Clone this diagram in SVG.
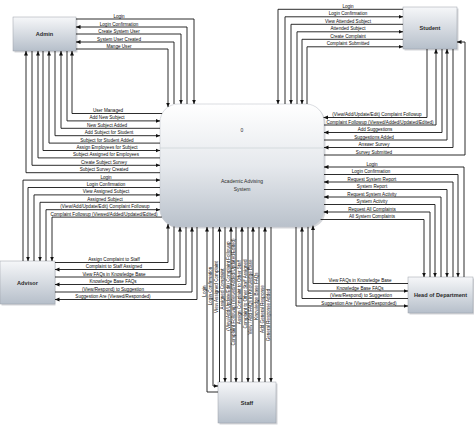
<svg xmlns="http://www.w3.org/2000/svg" width="474" height="426" viewBox="0 0 474 426">
<defs>
<linearGradient id="g" x1="0" y1="0" x2="0" y2="1"><stop offset="0" stop-color="#f6f7f9"/><stop offset="1" stop-color="#b6bfca"/></linearGradient>
<linearGradient id="gc" x1="0" y1="0" x2="0" y2="1"><stop offset="0" stop-color="#ffffff"/><stop offset="0.5" stop-color="#e6e9ed"/><stop offset="1" stop-color="#b9c1cb"/></linearGradient>
<marker id="a" viewBox="0 0 6 6" refX="6" refY="3" markerWidth="4.5" markerHeight="4.5" markerUnits="userSpaceOnUse" orient="auto"><path d="M0,0.3 L6,3 L0,5.7 z" fill="#111"/></marker>
<style>
.n{fill:url(#g);stroke:#9aa0a8;stroke-width:0.5}
.s{fill:#d4d6da}
.nt{font-family:"Liberation Sans",Arial,sans-serif;font-size:5.6px;font-weight:bold;fill:#2a2a2a;text-anchor:middle}
.ct{font-family:"Liberation Sans",Arial,sans-serif;font-size:5px;fill:#2a2a2a;text-anchor:middle}
.c path{fill:none;stroke:#151515;stroke-width:0.9;marker-end:url(#a)}
.t{font-family:"Liberation Sans",Arial,sans-serif;font-size:4.6px;fill:#0a0a0a;text-anchor:middle}
</style>
</defs>
<rect width="474" height="426" fill="#ffffff"/>

<g id="admin"><rect class="s" x="14.5" y="18.5" width="63" height="34"/><rect class="n" x="13" y="17" width="63" height="34"/><text class="nt" x="44.5" y="36">Admin</text></g>
<g id="student"><rect class="s" x="404.5" y="8.5" width="54" height="42"/><rect class="n" x="403" y="7" width="54" height="42"/><text class="nt" x="430" y="30">Student</text></g>
<g id="system"><rect x="161.5" y="105.5" width="164" height="123" rx="18" fill="#d4d6da"/><rect x="160" y="104" width="164" height="123" rx="18" fill="url(#gc)" stroke="#c2c6cc" stroke-width="0.6"/><line x1="160" y1="148" x2="324" y2="148" stroke="#c8ccd2" stroke-width="0.6"/><text class="ct" x="242" y="132">0</text><text class="ct" x="242" y="183">Academic Advising</text><text class="ct" x="242" y="191">System</text></g>
<g id="advisor"><rect class="s" x="1.5" y="262.5" width="54" height="43"/><rect class="n" x="0" y="261" width="55" height="43"/><text class="nt" x="27.5" y="284.5">Advisor</text></g>
<g id="hod"><rect class="s" x="409.5" y="278.5" width="65" height="36"/><rect class="n" x="408" y="277" width="65" height="36"/><text class="nt" x="440.5" y="297">Head of Department</text></g>
<g id="staff"><rect class="s" x="219.5" y="383.5" width="58" height="41"/><rect class="n" x="218" y="382" width="58" height="41"/><text class="nt" x="247" y="404.5">Staff</text></g>

<g id="connectors" class="c">
<path d="M76,19 H194 V104"/>
<path d="M187,104 V27 H76"/>
<path d="M76,34 H181 V104"/>
<path d="M174,104 V42 H76"/>
<path d="M76,49 H168 V107"/>

<path d="M403,9.3 H278 V104"/>
<path d="M285,104 V16.8 H403"/>
<path d="M403,24.3 H291 V104"/>
<path d="M297,104 V31.8 H403"/>
<path d="M403,39.3 H302 V104"/>
<path d="M307,104 V46.8 H403"/>

<path d="M427,49 V117.5 H323.5"/>
<path d="M324,125 H436 V49"/>
<path d="M442,49 V132.5 H324"/>
<path d="M324,140 H447 V49"/>
<path d="M453,49 V147.5 H324"/>
<path d="M324,155 H465 V42 H457"/>

<path d="M464,277 V167 H324"/>
<path d="M324,174.5 H458 V277"/>
<path d="M453,277 V182 H324"/>
<path d="M324,189.5 H447 V277"/>
<path d="M441,277 V197 H324"/>
<path d="M324,204.5 H435 V277"/>
<path d="M430,277 V212 H323.7"/>
<path d="M320.6,219.5 H424 V277"/>

<path d="M162.1,113.5 H72 V51"/>
<path d="M67,51 V120.9 H160"/>
<path d="M160,128.3 H61 V51"/>
<path d="M55,51 V135.7 H160"/>
<path d="M160,143.1 H49 V51"/>
<path d="M43,51 V150.5 H160"/>
<path d="M160,157.9 H38 V51"/>
<path d="M32,51 V165.3 H160"/>
<path d="M160,172.7 H26 V51"/>

<path d="M23,261 V180.1 H160"/>
<path d="M160,187.5 H28 V261"/>
<path d="M34,261 V194.9 H160"/>
<path d="M160,202.3 H40 V261"/>
<path d="M46,261 V209.7 H160"/>
<path d="M161.9,217.1 H52 V261"/>

<path d="M55,262.5 H168 V224"/>
<path d="M174,226.5 V269.5 H55"/>
<path d="M55,277 H180 V227"/>
<path d="M186,227 V284.5 H55"/>
<path d="M55,292 H192 V227"/>
<path d="M197,227 V299.5 H55"/>

<path d="M408,283.5 H313 V225.6"/>
<path d="M308,226.9 V291 H408"/>
<path d="M408,298.5 H302 V227"/>
<path d="M296,227 V306 H408"/>

<path d="M218,392 H207 V227"/>
<path d="M213,227 V386 H218"/>
<path d="M219.5,382 V227"/>
<path d="M225,227 V382"/>
<path d="M231,382 V227"/>
<path d="M236,227 V382"/>
<path d="M242,382 V227"/>
<path d="M248,227 V382"/>
<path d="M253,382 V227"/>
<path d="M259,227 V382"/>
<path d="M265,382 V227"/>
<path d="M271,227 V382"/>
</g>

<g id="labels">
<text class="t" x="119" y="17.5">Login</text>
<text class="t" x="119" y="25.5">Login Confirmation</text>
<text class="t" x="119" y="32.5">Create System User</text>
<text class="t" x="119" y="40.5">System User Created</text>
<text class="t" x="119" y="47.5">Mange User</text>

<text class="t" x="348" y="7.8">Login</text>
<text class="t" x="348" y="15.3">Login Confirmation</text>
<text class="t" x="348" y="22.8">View Attended Subject</text>
<text class="t" x="348" y="30.3">Attended Subject</text>
<text class="t" x="348" y="37.8">Create Complaint</text>
<text class="t" x="348" y="45.3">Complaint Submitted</text>

<text class="t" x="377" y="116">(View/Add/Update/Edit) Complaint Followup</text>
<text class="t" x="380" y="123.5">Complaint Followup  (Viewed/Added/Updated/Edited)</text>
<text class="t" x="375" y="131">Add Suggestions</text>
<text class="t" x="374" y="138.5">Suggestions Added</text>
<text class="t" x="374" y="146">Answer Survey</text>
<text class="t" x="374" y="153.5">Survey Submitted</text>

<text class="t" x="372" y="165.5">Login</text>
<text class="t" x="371" y="173">Login Confirmation</text>
<text class="t" x="372" y="180.5">Request System Report</text>
<text class="t" x="372" y="188">System Report</text>
<text class="t" x="372" y="195.5">Request System Activity</text>
<text class="t" x="372" y="203">System Activity</text>
<text class="t" x="372" y="210.5">Request All Complaints</text>
<text class="t" x="372" y="218">All System Complaints</text>

<text class="t" x="108" y="112">User Managed</text>
<text class="t" x="107" y="119.4">Add New Subject</text>
<text class="t" x="107" y="126.8">New Subject Added</text>
<text class="t" x="109" y="134.2">Add Subject for Student</text>
<text class="t" x="107" y="141.6">Subject for Student Added</text>
<text class="t" x="107" y="149">Assign Employees for Subject</text>
<text class="t" x="106" y="156.4">Subject Assigned for Employees</text>
<text class="t" x="104" y="163.8">Create Subject Survey</text>
<text class="t" x="104" y="171.2">Subject Survey Created</text>

<text class="t" x="106" y="178.6">Login</text>
<text class="t" x="106" y="186">Login Confirmation</text>
<text class="t" x="106" y="193.4">View Assigned Subject</text>
<text class="t" x="105" y="200.8">Assigned Subject</text>
<text class="t" x="105" y="208.2">(View/Add/Update/Edit) Complaint Followup</text>
<text class="t" x="104" y="215.6">Complaint Followup  (Viewed/Added/Updated/Edited)</text>

<text class="t" x="114" y="261">Assign Complaint to Staff</text>
<text class="t" x="114" y="268">Complaint to Staff Assigned</text>
<text class="t" x="114" y="275.5">View FAQs in Knowledge Base</text>
<text class="t" x="113" y="283">Knowledge Base FAQs</text>
<text class="t" x="113" y="290.5">(View/Respond) to Suggestion</text>
<text class="t" x="113" y="298">Suggestion Are (Viewed/Responded)</text>

<text class="t" x="360" y="282">View FAQs in Knowledge Base</text>
<text class="t" x="360" y="289.5">Knowledge Base FAQs</text>
<text class="t" x="361" y="297">(View/Respond) to Suggestion</text>
<text class="t" x="359" y="304.5">Suggestion Are (Viewed/Responded)</text>

<text class="t" transform="translate(205.7,291) rotate(-90)">Login</text>
<text class="t" transform="translate(211.7,286) rotate(-90)">Login Confirmation</text>
<text class="t" transform="translate(217.7,287) rotate(-90)">View Assigned Complaint</text>
<text class="t" transform="translate(223.7,289) rotate(-90)">Assigned Complaint</text>
<text class="t" transform="translate(229.7,286) rotate(-90)">(View/Add/Update/Edit) Complaint Followup</text>
<text class="t" transform="translate(234.7,292) rotate(-90)">Complaint Followup  (Viewed/Added/Updated/Edited)</text>
<text class="t" transform="translate(240.7,292) rotate(-90)">Assign Complaint to Other Staff</text>
<text class="t" transform="translate(246.7,294) rotate(-90)">Complaint to Other Staff Assigned</text>
<text class="t" transform="translate(251.7,297) rotate(-90)">View / Add FAQs in Knowledge Base</text>
<text class="t" transform="translate(257.7,296) rotate(-90)">Knowledge Base FAQs</text>
<text class="t" transform="translate(263.7,309) rotate(-90)">Add General Response</text>
<text class="t" transform="translate(269.7,315) rotate(-90)">General Response Added</text>
</g>
</svg>
